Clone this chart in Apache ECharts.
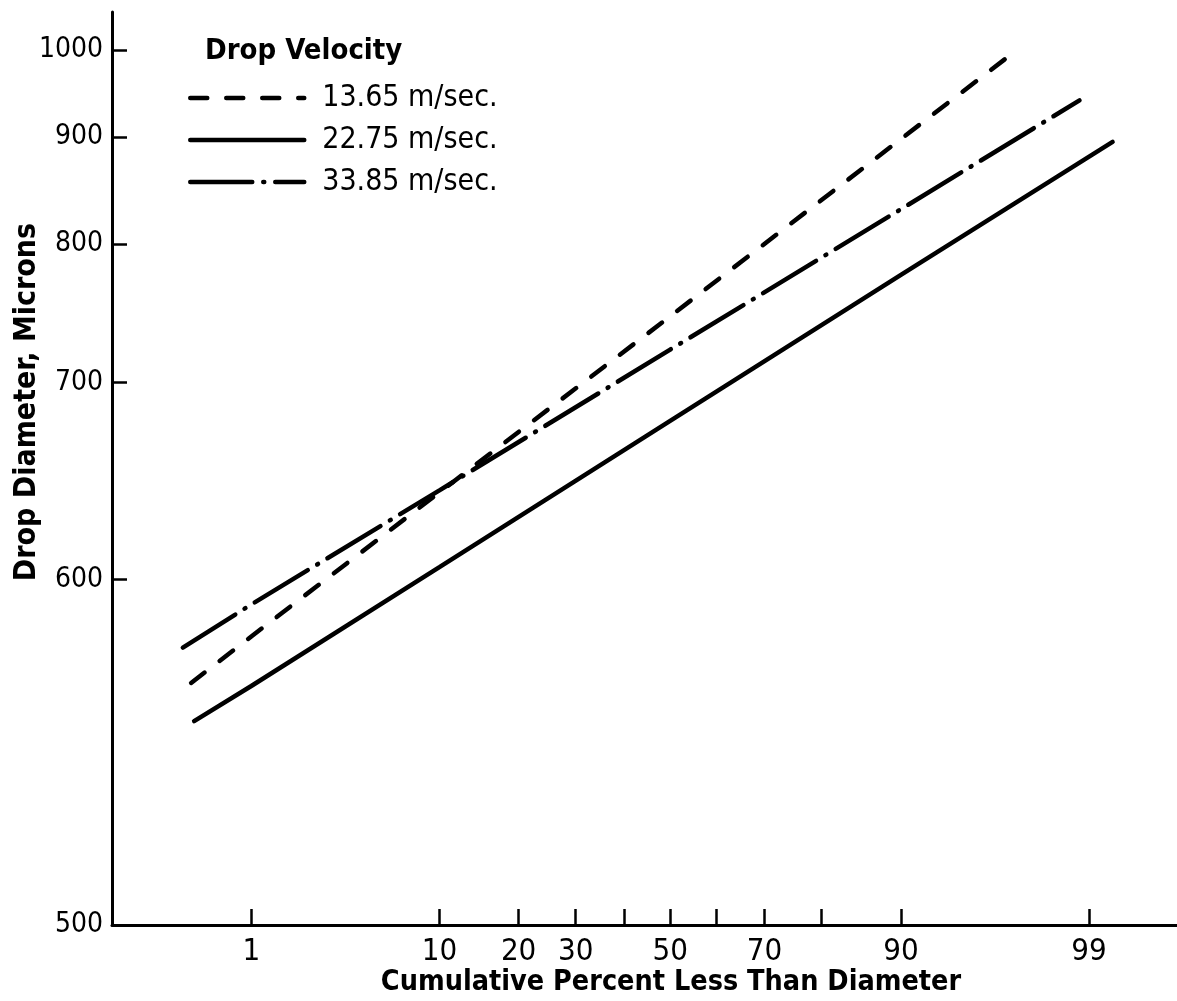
<!DOCTYPE html>
<html>
<head>
<meta charset="utf-8">
<script src="https://cdn.jsdelivr.net/npm/echarts@6/dist/echarts.min.js"></script>
<style>
  html, body { margin: 0; padding: 0; background: #fff; }
  #chart { width: 1177px; height: 1001px; }
</style>
</head>
<body>
<div id="chart"></div>
<script>
// probability-axis ticks (cumulative percent) and diameter ticks
const percentTicks = [1, 10, 20, 30, 40, 50, 60, 70, 80, 90, 99];
const percentLabels = [1, 10, 20, 30, 50, 70, 90, 99];
const diameterTicks = [500, 600, 700, 800, 900, 1000];

const seriesNames = ['13.65 m/sec.', '22.75 m/sec.', '33.85 m/sec.'];

// values: cumulative percent -> drop diameter (microns)
const pct1365 = [0.39, 1, 10, 50, 90, 97.1];
const dia1365 = [562, 578, 639, 744, 898, 995];
const pct2275 = [0.41, 1, 10, 50, 90, 99.3];
const dia2275 = [550, 561, 605, 677, 775, 895];
const pct3385 = [0.34, 1, 10, 50, 90, 98.85];
const dia3385 = [574, 590, 640, 721, 830, 940];

const FONT = "'DejaVu Sans Condensed', 'DejaVu Sans', sans-serif";

// inverse normal cdf (Acklam) for the probability scale
function probit(p) {
  const a = [-3.969683028665376e+01, 2.209460984245205e+02, -2.759285104469687e+02, 1.383577518672690e+02, -3.066479806614716e+01, 2.506628277459239e+00];
  const b = [-5.447609879822406e+01, 1.615858368580409e+02, -1.556989798598866e+02, 6.680131188771972e+01, -1.328068155288572e+01];
  const c = [-7.784894002430293e-03, -3.223964580411365e-01, -2.400758277161838e+00, -2.549732539343734e+00, 4.374664141464968e+00, 2.938163982698783e+00];
  const d = [7.784695709041462e-03, 3.224671290700398e-01, 2.445134137142996e+00, 3.754408661907416e+00];
  const pl = 0.02425;
  let q, r;
  if (p < pl) {
    q = Math.sqrt(-2 * Math.log(p));
    return (((((c[0]*q+c[1])*q+c[2])*q+c[3])*q+c[4])*q+c[5]) / ((((d[0]*q+d[1])*q+d[2])*q+d[3])*q+1);
  }
  if (p <= 1 - pl) {
    q = p - 0.5; r = q * q;
    return (((((a[0]*r+a[1])*r+a[2])*r+a[3])*r+a[4])*r+a[5])*q / (((((b[0]*r+b[1])*r+b[2])*r+b[3])*r+b[4])*r+1);
  }
  q = Math.sqrt(-2 * Math.log(1 - p));
  return -(((((c[0]*q+c[1])*q+c[2])*q+c[3])*q+c[4])*q+c[5]) / ((((d[0]*q+d[1])*q+d[2])*q+d[3])*q+1);
}

// the diameter scale of the paper: log of (d - 408)
const D0 = 408;
const px = p => probit(p / 100);
const dy = v => Math.log10(v - D0);

function lookup(list, fn, v) {
  for (const item of list) {
    if (Math.abs(fn(item) - v) < 1e-6) return String(item);
  }
  return '';
}

function toPoints(pcts, dias) {
  return pcts.map((p, i) => [px(p), dy(dias[i])]);
}

const lineBase = { color: '#000', width: 4.5, cap: 'round' };

const chart = echarts.init(document.getElementById('chart'));
chart.setOption({
  animation: false,
  backgroundColor: '#fff',
  color: ['#000', '#000', '#000'],
  grid: { left: 112, right: 0, top: 12, bottom: 76 },
  title: {
    text: 'Drop Velocity',
    left: 205, top: 37, padding: 0,
    textStyle: { fontFamily: FONT, fontSize: 29, fontWeight: 'bold', color: '#000' }
  },
  legend: {
    data: seriesNames,
    orient: 'vertical',
    left: 188, top: 83, padding: 0,
    itemWidth: 114, itemHeight: 14, itemGap: 12,
    itemStyle: { opacity: 0 },
    lineStyle: { width: 4.5, cap: 'round' },
    textStyle: { fontFamily: FONT, fontSize: 30, color: '#000', lineHeight: 30, padding: [0, 0, 0, 13] }
  },
  xAxis: {
    type: 'value',
    min: -3.1, max: 2.815,
    axisLine: { onZero: false, lineStyle: { color: '#000', width: 3 } },
    axisTick: {
      inside: true, length: 16,
      lineStyle: { color: '#000', width: 2.5 },
      customValues: percentTicks.map(px)
    },
    axisLabel: {
      customValues: percentLabels.map(px),
      formatter: v => lookup(percentLabels, px, v),
      margin: 11, fontFamily: FONT, fontSize: 31, color: '#000'
    },
    splitLine: { show: false }
  },
  yAxis: {
    type: 'value',
    min: dy(500), max: 2.8076,
    axisLine: { onZero: false, lineStyle: { color: '#000', width: 3 } },
    axisTick: {
      inside: true, length: 15,
      lineStyle: { color: '#000', width: 2.5 },
      customValues: diameterTicks.map(dy)
    },
    axisLabel: {
      customValues: diameterTicks.map(dy),
      formatter: v => lookup(diameterTicks, dy, v),
      margin: 9, fontFamily: FONT, fontSize: 28, color: '#000'
    },
    splitLine: { show: false }
  },
  graphic: [
    {
      type: 'text', x: 671, y: 983,
      style: {
        text: 'Cumulative Percent Less Than Diameter',
        fill: '#000', fontFamily: FONT, fontSize: 28.5, fontWeight: 'bold',
        align: 'center', verticalAlign: 'middle', textAlign: 'center', textVerticalAlign: 'middle'
      }
    },
    {
      type: 'text', x: 27, y: 402, rotation: Math.PI / 2,
      style: {
        text: 'Drop Diameter, Microns',
        fill: '#000', fontFamily: FONT, fontSize: 30, fontWeight: 'bold',
        align: 'center', verticalAlign: 'middle', textAlign: 'center', textVerticalAlign: 'middle'
      }
    }
  ],
  series: [
    {
      name: seriesNames[0], type: 'line', symbol: 'none',
      itemStyle: { color: '#000' },
      data: toPoints(pct1365, dia1365),
      lineStyle: Object.assign({}, lineBase, { type: [17, 19] })
    },
    {
      name: seriesNames[1], type: 'line', symbol: 'none',
      itemStyle: { color: '#000' },
      data: toPoints(pct2275, dia2275),
      lineStyle: Object.assign({}, lineBase, { type: 'solid' })
    },
    {
      name: seriesNames[2], type: 'line', symbol: 'none',
      itemStyle: { color: '#000' },
      data: toPoints(pct3385, dia3385),
      lineStyle: Object.assign({}, lineBase, { type: [62, 11, 1, 11] })
    }
  ]
});
</script>
</body>
</html>
